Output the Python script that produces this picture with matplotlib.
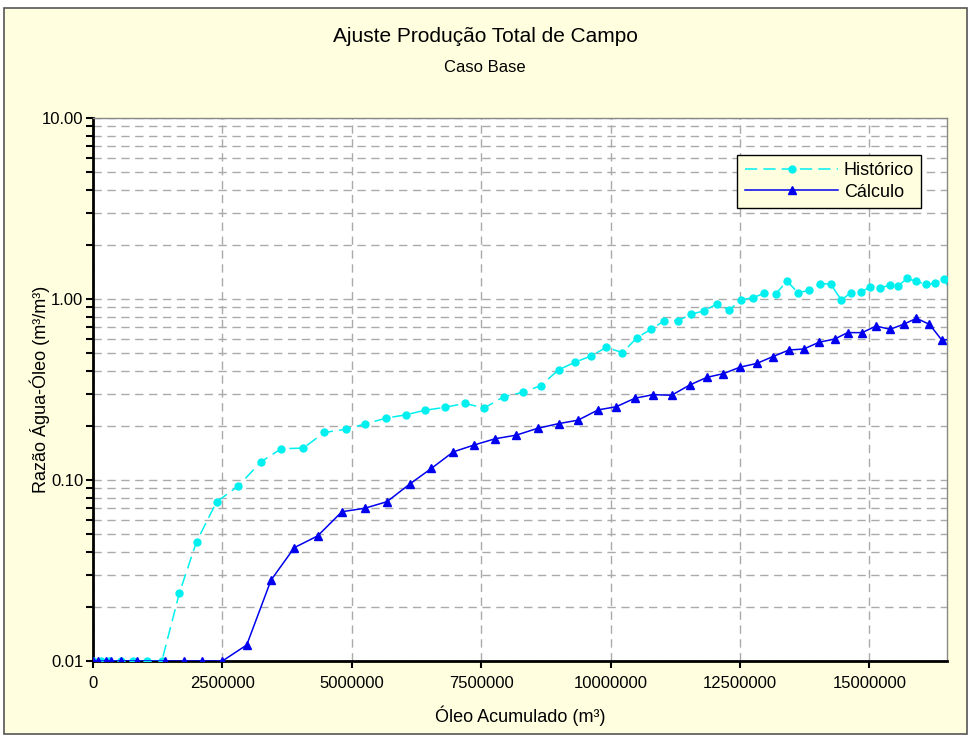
import matplotlib
matplotlib.use("Agg")
import matplotlib.pyplot as plt
from matplotlib.ticker import FixedLocator, FuncFormatter, LogLocator, NullFormatter
from matplotlib.patches import Rectangle

plt.rcParams['font.family'] = ['Liberation Sans', 'DejaVu Sans']

# Histórico (observed) - cumulative oil (m3) vs water-oil ratio
hist_x = [0, 150000, 300000, 550000, 770000, 1050000, 1330000, 1670000, 2000000, 2390000,
          2810000, 3240000, 3640000, 4060000, 4470000, 4880000, 5260000, 5670000, 6040000,
          6420000, 6800000, 7180000, 7560000, 7940000, 8300000, 8650000, 9000000, 9310000,
          9620000, 9920000, 10230000, 10510000, 10790000, 11040000, 11310000, 11560000,
          11800000, 12050000, 12290000, 12520000, 12750000, 12970000, 13190000, 13410000,
          13620000, 13840000, 14050000, 14250000, 14460000, 14640000, 14830000, 15010000,
          15200000, 15390000, 15560000, 15730000, 15910000, 16090000, 16260000, 16440000,
          16650000]
hist_y = [0.01, 0.01, 0.01, 0.01, 0.01, 0.01, 0.01, 0.0238, 0.0456, 0.0759,
          0.0927, 0.1257, 0.149, 0.150, 0.183, 0.1906, 0.204, 0.220, 0.229,
          0.243, 0.252, 0.265, 0.250, 0.289, 0.305, 0.332, 0.407, 0.447,
          0.484, 0.541, 0.505, 0.611, 0.683, 0.759, 0.759, 0.826,
          0.858, 0.938, 0.869, 0.99, 1.017, 1.075, 1.066, 1.257,
          1.083, 1.117, 1.215, 1.21, 0.987, 1.083, 1.089, 1.165,
          1.146, 1.195, 1.184, 1.30, 1.25, 1.205, 1.22, 1.29,
          1.0]

# Cálculo (simulated)
calc_x = [0, 100000, 250000, 350000, 550000, 850000, 1400000, 1750000, 2100000, 2500000,
          2970000, 3440000, 3890000, 4340000, 4810000, 5250000, 5680000, 6120000, 6540000,
          6960000, 7360000, 7770000, 8180000, 8590000, 9000000, 9370000, 9760000, 10110000,
          10470000, 10820000, 11180000, 11530000, 11860000, 12180000, 12500000, 12830000,
          13130000, 13450000, 13730000, 14030000, 14330000, 14580000, 14860000, 15130000,
          15400000, 15660000, 15910000, 16160000, 16400000, 16650000]
calc_y = [0.01, 0.01, 0.01, 0.01, 0.01, 0.01, 0.01, 0.01, 0.01, 0.01,
          0.01226, 0.0280, 0.0423, 0.0491, 0.0668, 0.0698, 0.0759, 0.095, 0.116,
          0.143, 0.156, 0.169, 0.177, 0.193, 0.205, 0.214, 0.244, 0.254,
          0.283, 0.296, 0.294, 0.335, 0.369, 0.387, 0.420, 0.441,
          0.480, 0.523, 0.529, 0.577, 0.601, 0.652, 0.652, 0.709,
          0.680, 0.725, 0.782, 0.725, 0.593, 0.60]

x_ticks = [0, 2500000, 5000000, 7500000, 10000000, 12500000, 15000000]
y_ticks = [0.01, 0.1, 1.0, 10.0]

bg = '#FFFFE0'

fig = plt.figure(figsize=(9.7, 7.36), dpi=100)
fig.patch.set_facecolor('white')
fig.patches.append(Rectangle((4 / 970, 1 - 734 / 736), 963 / 970, 726 / 736,
                             transform=fig.transFigure, facecolor=bg,
                             edgecolor='#555555', linewidth=1.2, zorder=-10))

ax = fig.add_axes([93 / 970, 1 - 661 / 736, 854 / 970, 543 / 736])
ax.set_facecolor('white')

ax.plot(hist_x, hist_y, color='#00F0F0', linestyle=(0, (8, 4)), linewidth=1.1,
        marker='o', markersize=5, label='Histórico', zorder=3)
ax.plot(calc_x, calc_y, color='#0000EE', linestyle='-', linewidth=1.1,
        marker='^', markersize=6, label='Cálculo', zorder=4)

ax.set_yscale('log')
ax.set_xlim(0, 16500000)
ax.set_ylim(0.01, 10)

ax.xaxis.set_major_locator(FixedLocator(x_ticks))
ax.xaxis.set_major_formatter(FuncFormatter(lambda v, p: '%d' % v))
ax.yaxis.set_major_locator(FixedLocator(y_ticks))
ax.yaxis.set_major_formatter(FuncFormatter(lambda v, p: '%.2f' % v))
ax.yaxis.set_minor_locator(LogLocator(base=10, subs=range(2, 10)))
ax.yaxis.set_minor_formatter(NullFormatter())

ax.grid(True, which='major', axis='both', color='#AAAAAA', linestyle=(0, (6, 4)), linewidth=1)
ax.grid(True, which='minor', axis='y', color='#AAAAAA', linestyle=(0, (6, 4)), linewidth=1)

ax.tick_params(axis='both', which='major', direction='out', length=5, width=1.5,
               labelsize=12, colors='black', pad=2)
ax.tick_params(axis='x', which='major', pad=6)
ax.tick_params(axis='y', which='minor', direction='out', length=5, width=1.5)

for side in ['left', 'bottom']:
    ax.spines[side].set_linewidth(2)
    ax.spines[side].set_color('black')
for side in ['top', 'right']:
    ax.spines[side].set_linewidth(1)
    ax.spines[side].set_color('#888888')

ax.set_xlabel('Óleo Acumulado (m³)', fontsize=13)
ax.set_ylabel('Razão Água-Óleo (m³/m³)', fontsize=13)
ax.xaxis.set_label_coords(0.5, -(716 - 661) / 543)
ax.yaxis.set_label_coords(-(93 - 40) / 854, 0.5)
ax.xaxis.label.set_va('center')
ax.yaxis.label.set_va('center')

fig.text(0.5, 1 - 36 / 736, 'Ajuste Produção Total de Campo', ha='center', va='center', fontsize=15)
fig.text(0.5, 1 - 67 / 736, 'Caso Base', ha='center', va='center', fontsize=12)

leg = ax.legend(loc='upper right', bbox_to_anchor=(0.97, 0.932), numpoints=1,
                handlelength=5.2, fontsize=13, frameon=True, fancybox=False,
                borderpad=0.4, labelspacing=0.25, handletextpad=0.3, borderaxespad=0)
leg.get_frame().set_facecolor(bg)
leg.get_frame().set_edgecolor('black')
leg.get_frame().set_linewidth(1)
leg.get_frame().set_alpha(1)

fig.savefig('out.png', dpi=100, facecolor=fig.get_facecolor())
